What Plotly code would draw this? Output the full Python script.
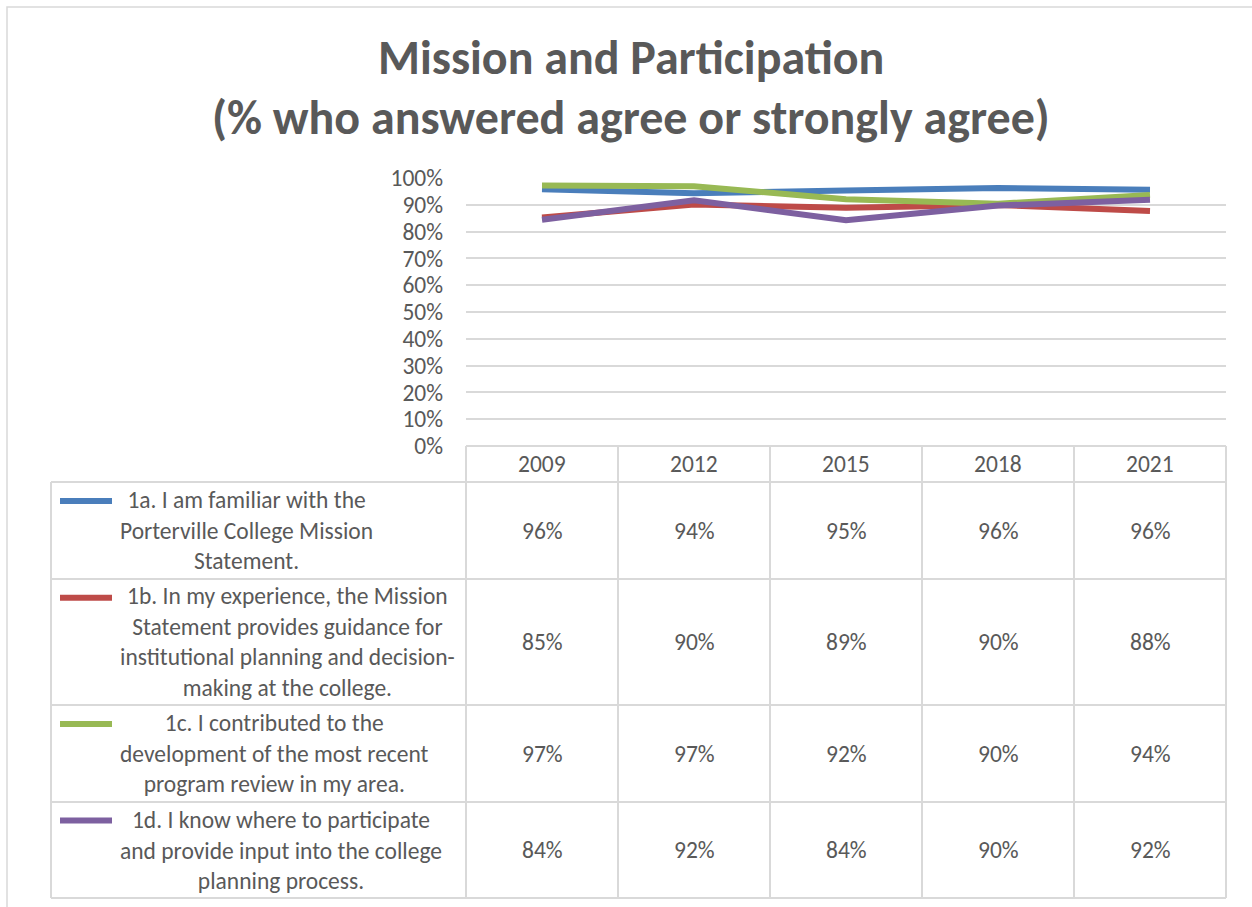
import plotly.graph_objects as go

years = ["2009", "2012", "2015", "2018", "2021"]
series_names = [
    "1a. I am familiar with the<br>Porterville College Mission<br>Statement.",
    "1b. In my experience, the Mission<br>Statement provides guidance for<br>institutional planning and decision-<br>making at the college.",
    "1c. I contributed to the<br>development of the most recent<br>program review in my area.",
    "1d. I know where to participate<br>and provide input into the college<br>planning process.",
]
v_1a = [0.958, 0.943, 0.953, 0.963, 0.956]
v_1b = [0.853, 0.901, 0.889, 0.899, 0.877]
v_1c = [0.972, 0.969, 0.921, 0.904, 0.937]
v_1d = [0.844, 0.917, 0.842, 0.897, 0.919]
series_values = [v_1a, v_1b, v_1c, v_1d]
colors = ["#4A7EBB", "#BE4B48", "#98B954", "#7D60A0"]
title_lines = ["Mission and Participation", "(% who answered agree or strongly agree)"]

W, H = 1252, 907
FONT = "Carlito, Lato, sans-serif"
TXT = "#595959"
GRID = "#D9D9D9"


def X(px):
    return px / W


def Y(py):
    return 1 - py / H


fig = go.Figure()
for name, vals, col in zip(series_names, series_values, colors):
    fig.add_trace(go.Scatter(
        x=list(range(len(years))), y=vals, mode="lines",
        line=dict(color=col, width=6), name=name.replace("<br>", " "),
        showlegend=False, hoverinfo="skip"))

shapes = []
annotations = []

shapes.append(dict(type="rect", xref="paper", yref="paper",
                   x0=X(7), x1=X(1262), y0=Y(7), y1=Y(917),
                   line=dict(color=GRID, width=1.5)))

plot_left, plot_right = 466, 1226
col_w = (plot_right - plot_left) / len(years)
row_edges = [446, 482, 579, 705, 802, 898]
label_left = 51

shapes.append(dict(type="line", xref="paper", yref="paper",
                   x0=X(plot_left), x1=X(plot_right), y0=Y(446), y1=Y(446),
                   line=dict(color=GRID, width=2)))
for ry in row_edges[1:]:
    shapes.append(dict(type="line", xref="paper", yref="paper",
                       x0=X(label_left), x1=X(plot_right), y0=Y(ry), y1=Y(ry),
                       line=dict(color=GRID, width=2)))
for i in range(len(years) + 1):
    vx = plot_left + i * col_w
    shapes.append(dict(type="line", xref="paper", yref="paper",
                       x0=X(vx), x1=X(vx), y0=Y(446), y1=Y(898),
                       line=dict(color=GRID, width=2)))
shapes.append(dict(type="line", xref="paper", yref="paper",
                   x0=X(label_left), x1=X(label_left), y0=Y(482), y1=Y(898),
                   line=dict(color=GRID, width=2)))

NUM_SIZE = 23.5
LBL_SIZE = 23.5

for i, yr in enumerate(years):
    annotations.append(dict(x=i, xref="x", y=Y(464), yref="paper", text=yr,
                            showarrow=False, xanchor="center", yanchor="middle",
                            font=dict(family=FONT, size=NUM_SIZE, color=TXT)))

line_h = 29.5
for r, (name, vals, col) in enumerate(zip(series_names, series_values, colors)):
    top, bot = row_edges[r + 1], row_edges[r + 2]
    n_lines = len(name.split("<br>"))
    mid = (top + bot) / 2
    first = mid - (n_lines - 1) * line_h / 2
    shapes.append(dict(type="line", xref="paper", yref="paper",
                       x0=X(60), x1=X(112), y0=Y(first), y1=Y(first),
                       line=dict(color=col, width=6)))
    annotations.append(dict(x=X(118), xref="paper", y=Y(mid), yref="paper",
                            text=name, showarrow=False, align="center",
                            xanchor="left", yanchor="middle",
                            font=dict(family=FONT, size=LBL_SIZE, color=TXT)))
    for i, v in enumerate(vals):
        annotations.append(dict(x=i, xref="x", y=Y(mid), yref="paper",
                                text=f"{round(v * 100)}%", showarrow=False,
                                xanchor="center", yanchor="middle",
                                font=dict(family=FONT, size=NUM_SIZE, color=TXT)))

for k, t in enumerate(title_lines):
    annotations.append(dict(x=X(631), xref="paper", y=Y(57 + k * 60), yref="paper",
                            text=f"<b>{t}</b>", showarrow=False,
                            xanchor="center", yanchor="middle",
                            font=dict(family=FONT, size=48, color=TXT)))

fig.update_layout(
    width=W, height=H, margin=dict(l=0, r=0, t=0, b=0, pad=0, autoexpand=False),
    paper_bgcolor="white", plot_bgcolor="white",
    xaxis=dict(domain=[X(plot_left), X(plot_right)], range=[-0.5, len(years) - 0.5],
               showgrid=False, showticklabels=False, zeroline=False, showline=False,
               automargin=False, fixedrange=True),
    yaxis=dict(domain=[Y(446), Y(178)], range=[0, 1], dtick=0.1, tickformat=".0%",
               showgrid=True, gridcolor=GRID, gridwidth=1.5, zeroline=False,
               showline=False, ticklabelstandoff=22, automargin=False,
               tickfont=dict(family=FONT, size=NUM_SIZE, color=TXT)),
    shapes=shapes, annotations=annotations,
)

post = (
    "document.documentElement.style.margin='0';"
    "document.documentElement.style.overflow='hidden';"
    "document.body.style.margin='0';"
    "document.body.style.overflow='hidden';"
    "var g=document.getElementById('{plot_id}');"
    "g.style.position='fixed';g.style.top='0px';g.style.left='0px';"
)
fig.write_html("out.html", config={"displayModeBar": False}, post_script=post)
